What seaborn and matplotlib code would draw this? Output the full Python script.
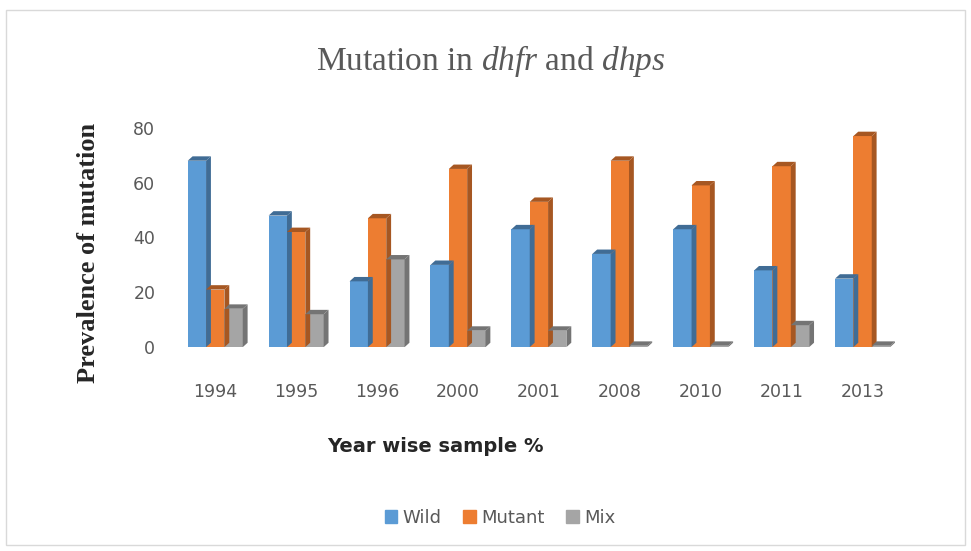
import pandas as pd
import matplotlib.pyplot as plt
import matplotlib.colors as mcolors
from matplotlib.patches import Polygon, Rectangle
import seaborn as sns

# data
years = ['1994', '1995', '1996', '2000', '2001', '2008', '2010', '2011', '2013']
wild = [68, 48, 24, 30, 43, 34, 43, 28, 25]
mutant = [21, 42, 47, 65, 53, 68, 59, 66, 77]
mix = [14, 12, 32, 6, 6, 0.5, 0.5, 8, 0.5]
series = ['Wild', 'Mutant', 'Mix']
colors = ['#5B9BD5', '#ED7D31', '#A5A5A5']

df = pd.DataFrame({'Year': years, 'Wild': wild, 'Mutant': mutant, 'Mix': mix})
df = df.melt(id_vars='Year', var_name='Type', value_name='Value')

sns.set_style('white')
plt.rcParams['font.family'] = ['DejaVu Sans']
plt.rcParams['mathtext.fontset'] = 'custom'
plt.rcParams['mathtext.rm'] = 'Liberation Serif'
plt.rcParams['mathtext.it'] = 'Liberation Serif:italic'

fig = plt.figure(figsize=(9.71, 5.51), dpi=100)
ax = fig.add_axes([0.18, 0.37, 0.75, 0.398])

sns.barplot(data=df, x='Year', y='Value', hue='Type', hue_order=series,
            palette=colors, width=0.68, gap=0.0, ax=ax, legend=False,
            saturation=1, linewidth=0)

# fake 3d: side and top faces
dx, dy = 0.06, 1.6
for p in list(ax.patches):
    x0, w, h = p.get_x(), p.get_width(), p.get_height()
    c = mcolors.to_rgb(p.get_facecolor())
    dark = tuple(v * 0.7 for v in c)
    side = Polygon([(x0 + w, 0), (x0 + w, h), (x0 + w + dx, h + dy), (x0 + w + dx, dy)],
                   closed=True, facecolor=dark, edgecolor='none', zorder=p.get_zorder())
    top = Polygon([(x0, h), (x0 + w, h), (x0 + w + dx, h + dy), (x0 + dx, h + dy)],
                  closed=True, facecolor=dark, edgecolor='none', zorder=p.get_zorder())
    ax.add_patch(side)
    ax.add_patch(top)

ax.set_ylim(0, 80)
ax.set_xlim(-0.5, 8.5)
ax.set_yticks([0, 20, 40, 60, 80])
sns.despine(ax=ax, left=True, bottom=True)
ax.tick_params(axis='x', length=0, pad=26, labelsize=12.5, labelcolor='#595959')
ax.tick_params(axis='y', length=0, pad=14, labelsize=12.5, labelcolor='#595959')
ax.set_xlabel('')
ax.set_ylabel('Prevalence of mutation', family='Liberation Serif', fontweight='bold',
              fontsize=19)
ax.yaxis.set_label_coords(-0.103, 0.43)

fig.text(0.505, 0.89, r'Mutation in $\mathit{dhfr}$ and $\mathit{dhps}$',
         family='Liberation Serif', fontsize=24, color='#595959', ha='center', va='center')
fig.text(0.448, 0.19, 'Year wise sample %', fontsize=14, fontweight='bold',
         color='#262626', ha='center', va='center')

handles = [Rectangle((0, 0), 1, 1, color=c) for c in colors]
fig.legend(handles, series, loc='center', bbox_to_anchor=(0.515, 0.06), ncol=3,
           frameon=False, fontsize=13, labelcolor='#595959', handlelength=0.7,
           handleheight=0.7, handletextpad=0.3, columnspacing=1.2)

# light frame around the chart
fig.patches.append(Rectangle((0.006, 0.01), 0.988, 0.972, transform=fig.transFigure,
                             fill=False, edgecolor='#d9d9d9', linewidth=1))

fig.savefig('out.png', dpi=100)
